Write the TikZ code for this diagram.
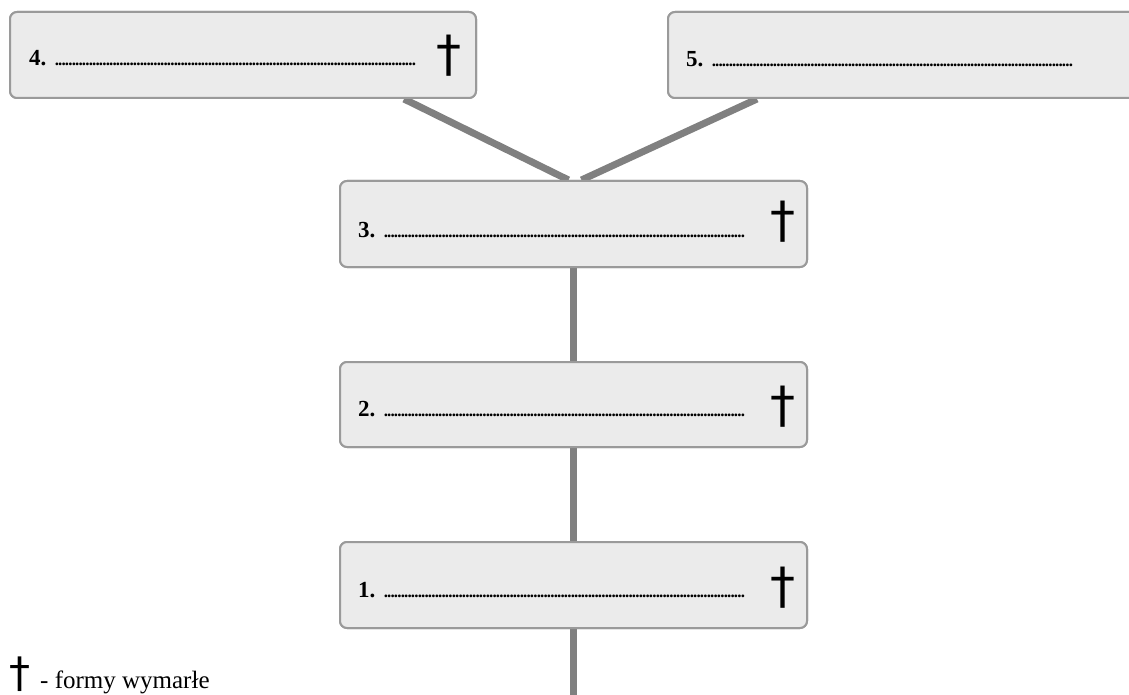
\documentclass[tikz,border=0pt]{standalone}
\usepackage{fontspec}
\setmainfont{Liberation Serif}
\newfontfamily\symfont{DejaVu Sans}
\definecolor{boxfill}{HTML}{EBEBEB}
\definecolor{boxline}{HTML}{9A9A9A}
\definecolor{connline}{HTML}{808080}
\newcommand\dotrow[1]{\hbox to #1{\fontsize{17}{17}\selectfont\bfseries\leaders\hbox to 3.4pt{\hss.\hss}\hfill}}
\tikzset{
  formbox/.style={draw=boxline, line width=2pt, fill=boxfill, rounded corners=7pt, inner sep=0pt, anchor=north west},
  conn/.style={draw=connline, line width=7pt},
  numlabel/.style={anchor=base west, inner sep=0pt, font=\fontsize{23}{23}\selectfont\bfseries},
  dotlabel/.style={anchor=base west, inner sep=0pt},
  dagger/.style={anchor=base, inner sep=0pt, font=\symfont\fontsize{50}{50}\selectfont}
}
\begin{document}
\begin{tikzpicture}[x=1pt,y=-1pt]
\useasboundingbox (0,0) rectangle (1129,695);
\clip (0,0) rectangle (1129,695);
\fill[white] (0,0) rectangle (1129,695);
% boxes (first pass, for names)
\node[formbox, minimum width=466pt, minimum height=86pt] (b4) at (9,11) {};
\node[formbox, minimum width=480pt, minimum height=86pt] (b5) at (667,11) {};
\node[formbox, minimum width=467pt, minimum height=86pt] (b3) at (339,180) {};
\node[formbox, minimum width=467pt, minimum height=85pt] (b2) at (339,361) {};
\node[formbox, minimum width=467pt, minimum height=86pt] (b1) at (339,541) {};
% connectors
\draw[conn] ([xshift=395pt]b4.south west) -- ([xshift=-5pt]b3.north);
\draw[conn] ([xshift=90pt]b5.south west) -- ([xshift=8pt]b3.north);
\draw[conn] (b3.south) -- (b2.north);
\draw[conn] (b2.south) -- (b1.north);
\draw[conn] (b1.south) -- ++(0,80);
% redraw boxes over connector ends
\node[formbox, minimum width=466pt, minimum height=86pt] at (9,11) {};
\node[formbox, minimum width=480pt, minimum height=86pt] at (667,11) {};
\node[formbox, minimum width=467pt, minimum height=86pt] at (339,180) {};
\node[formbox, minimum width=467pt, minimum height=85pt] at (339,361) {};
\node[formbox, minimum width=467pt, minimum height=86pt] at (339,541) {};
% texts
\node[numlabel] (t4) at (29,66) {4.};
\node[dotlabel] (l4) at (55,66) {\dotrow{361pt}};
\node[numlabel] (t5) at (686,67) {5.};
\node[dotlabel] (l5) at (712,67) {\dotrow{362pt}};
\node[numlabel] (t3) at (358,237) {3.};
\node[dotlabel] (l3) at (384,237) {\dotrow{362pt}};
\node[numlabel] (t2) at (358,416) {2.};
\node[dotlabel] (l2) at (384,416) {\dotrow{362pt}};
\node[numlabel] (t1) at (358,597) {1.};
\node[dotlabel] (l1) at (384,597) {\dotrow{362pt}};
\node[dagger] (d4) at (449,71.5) {†};
\node[dagger] (d3) at (783,237.5) {†};
\node[dagger] (d2) at (783,422) {†};
\node[dagger] (d1) at (783,603.5) {†};
% legend
\node[dagger, font=\symfont\fontsize{42}{42}\selectfont] (dl) at (20,687) {†};
\node[anchor=base west, inner sep=0pt, font=\fontsize{25}{25}\selectfont] (lt) at (40,688) {- formy wymarłe};
\end{tikzpicture}
\end{document}
